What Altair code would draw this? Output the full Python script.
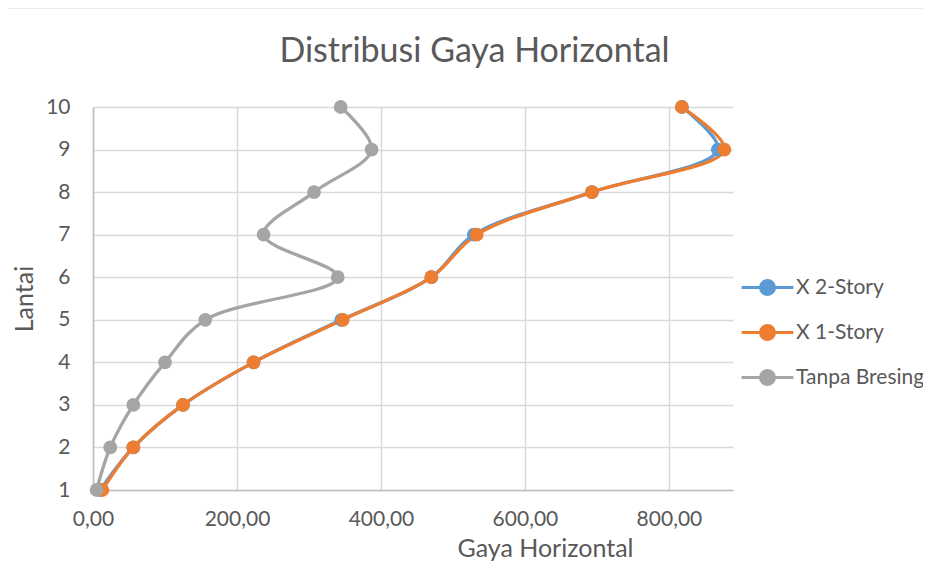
import altair as alt
import pandas as pd

lantai = [1, 2, 3, 4, 5, 6, 7, 8, 9, 10]
x2_story = [10, 56, 125, 223, 345, 470, 529, 693, 868, 818]
x1_story = [13, 56, 125, 223, 347, 470, 533, 693, 877, 818]
tanpa_bresing = [5, 24, 56, 100, 156, 340, 237, 307, 387, 344]

series_names = ["X 2-Story", "X 1-Story", "Tanpa Bresing"]
series_colors = ["#5B9BD5", "#ED7D31", "#A5A5A5"]
chart_title = "Distribusi Gaya Horizontal"

rows = []
for name, vals in zip(series_names, [x2_story, x1_story, tanpa_bresing]):
    for l, v in zip(lantai, vals):
        rows.append({"Series": name, "Lantai": l, "Gaya": v})
df = pd.DataFrame(rows)

legend_path = ("M -3.7 0 L -1 0 M 1 0 L 3.7 0 "
               "M 1 0 A 1 1 0 1 1 -1 0 A 1 1 0 1 1 1 0 Z")

color = alt.Color(
    "Series:N",
    scale=alt.Scale(domain=series_names, range=series_colors),
    legend=alt.Legend(
        title=None,
        orient="none",
        legendX=664,
        legendY=170,
        symbolType=legend_path,
        symbolSize=196,
        symbolStrokeWidth=3,
        labelFontSize=21,
        labelColor="#595959",
        labelFont="Lato",
        rowPadding=18,
        labelOffset=18,
        labelLimit=400,
    ),
)

base = alt.Chart(df).encode(
    x=alt.X(
        "Gaya:Q",
        scale=alt.Scale(domain=[0, 889], nice=False),
        axis=alt.Axis(
            title="Gaya Horizontal",
            values=[0, 200, 400, 600, 800],
            labelExpr="replace(format(datum.value, '.2f'), '.', ',')",
            labelFlush=False,
            labelPadding=18,
            titleX=452,
            titleY=46,
        ),
    ),
    y=alt.Y(
        "Lantai:Q",
        scale=alt.Scale(domain=[1, 10], nice=False, zero=False),
        axis=alt.Axis(title="Lantai", values=lantai, titlePadding=8,
                      labelPadding=23, labelFlush=False),
    ),
    order=alt.Order("Lantai:Q"),
    color=color,
)

lines = base.mark_line(
    interpolate="catmull-rom",
    strokeWidth=3.3,
    point=alt.OverlayMarkDef(filled=True, size=190, opacity=1),
)

frame = alt.Chart(pd.DataFrame({"a": [0]})).mark_rect(
    fill=None, stroke="#d9d9d9", strokeWidth=1, cornerRadius=3
).encode(
    x=alt.value(-88), x2=alt.value(1000), y=alt.value(-99), y2=alt.value(700)
)

title_text = alt.Chart(pd.DataFrame({"t": [chart_title]})).mark_text(
    font="Lato", fontSize=34, color="#595959", align="center", baseline="middle"
).encode(text="t:N", x=alt.value(381.5), y=alt.value(-55))

chart = alt.layer(frame, lines, title_text).properties(
    width=640,
    height=383,
    autosize=alt.AutoSizeParams(type="none"),
    padding={"left": 85, "top": 99, "right": 190, "bottom": 80},
).configure_view(stroke=None).configure_axis(
    gridColor="#d9d9d9",
    gridWidth=1.5,
    domainColor="#bfbfbf",
    domainWidth=1.5,
    ticks=False,
    labelFont="Lato",
    labelFontSize=21,
    labelColor="#595959",
    titleFont="Lato",
    titleFontSize=25,
    titleFontWeight="normal",
    titleColor="#595959",
)

chart.save("out.html", embed_options={"renderer": "svg", "actions": False})
